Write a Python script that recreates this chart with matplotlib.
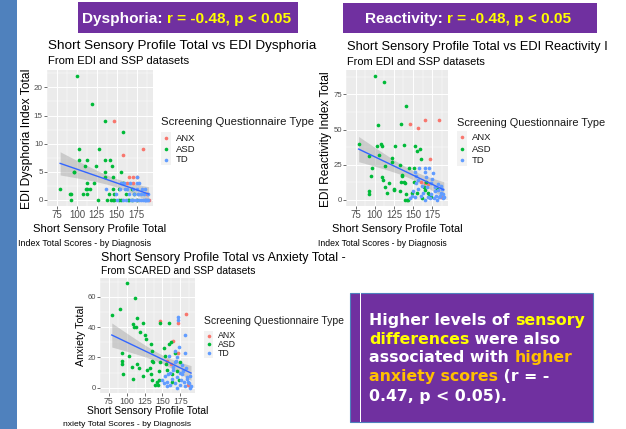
import numpy as np
import matplotlib
matplotlib.use("Agg")
import matplotlib.pyplot as plt
from matplotlib.patches import Rectangle
from matplotlib.lines import Line2D

plt.rcParams['font.family'] = ['Liberation Sans', 'DejaVu Sans']

# --- SSP total vs EDI Dysphoria ---
dys_anx_x = [146, 158, 183, 165, 170, 176, 163, 171, 188, 190, 175]
dys_anx_y = [14, 8, 9, 4, 4, 4, 3, 3, 1, 0, 0]
dys_asd_x = [100, 119, 135, 158, 103, 128, 103, 113, 135, 141, 110, 124, 144, 135, 156,
             96, 97, 135, 145, 113, 122, 79, 111, 113, 116, 145, 91, 93, 108, 113, 146,
             93, 127, 138, 143, 145, 147, 153, 155, 164, 166, 169, 169, 153, 140, 158,
             162, 172, 175]
dys_asd_y = [22, 17, 14, 12, 9, 9, 7, 7, 7, 7, 6, 6, 6, 5, 5,
             5, 5, 4, 4, 3, 3, 2, 2, 2, 2, 2, 1, 1, 1, 1, 1,
             0, 0, 0, 0, 0, 0, 0, 0, 0, 0, 0, 2, 2, 1, 3,
             1, 1, 0]
dys_td_x = [136, 149, 156, 159, 167, 176, 176, 186, 160, 165, 172, 177, 181, 184, 150,
            158, 162, 168, 171, 174, 178, 180, 183, 185, 187, 189, 189, 170, 175, 178,
            182, 186, 188, 154, 163]
dys_td_y = [2, 1, 3, 3, 3, 4, 3, 2, 2, 1, 1, 1, 1, 1, 0,
            0, 0, 0, 0, 0, 0, 0, 0, 0, 0, 0, 1, 2, 2, 3,
            2, 0, 0, 2, 2]

# --- SSP total vs EDI Reactivity ---
rea_anx_x = [146, 157, 166, 184, 172, 165, 187, 170, 160]
rea_anx_y = [54, 51, 57, 57, 29, 12, 2, 11, 13]
rea_asd_x = [100, 112, 141, 104, 134, 79, 103, 108, 109, 126, 138, 153, 155, 159, 160,
             92, 106, 122, 123, 133, 96, 113, 145, 151, 95, 110, 111, 113, 118, 116,
             125, 125, 133, 141, 140, 142, 144, 134, 138, 135, 136, 140, 92, 93, 149,
             151, 155, 162, 166, 167, 169, 174, 181, 164, 171]
rea_asd_y = [88, 84, 67, 53, 54, 40, 38, 40, 38, 38, 39, 38, 35, 36, 29,
             31, 32, 30, 27, 25, 23, 24, 23, 23, 17, 16, 14, 9, 12, 5,
             8, 7, 6, 4, 0, 0, 0, 13, 13, 18, 17, 12, 6, 4, 5,
             13, 5, 1, 7, 13, 5, 2, 8, 9, 3]
rea_td_x = [153, 154, 158, 165, 166, 171, 176, 154, 150, 156, 160, 163, 168, 170, 173,
            175, 177, 179, 180, 182, 184, 186, 188, 189, 157, 162, 165, 172, 178, 181,
            185, 189, 146, 148, 152, 167, 174, 183, 187, 190]
rea_td_y = [20, 17, 23, 23, 20, 23, 19, 12, 6, 8, 3, 5, 9, 2, 4,
            15, 1, 6, 3, 11, 2, 5, 8, 1, 14, 10, 0, 1, 9, 0,
            3, 4, 1, 3, 2, 16, 12, 7, 10, 2]

# --- SSP total vs SCARED anxiety total ---
anx_anx_x = [146, 172, 183, 165, 172, 157, 162, 186, 188]
anx_anx_y = [44, 43, 49, 31, 23, 18, 16, 2, 1]
anx_asd_x = [100, 112, 79, 91, 114, 123, 146, 159, 109, 110, 113, 119, 125, 127, 134,
             94, 93, 93, 95, 103, 108, 109, 115, 117, 123, 128, 132, 135, 135, 137,
             134, 136, 139, 143, 145, 144, 145, 152, 154, 159, 162, 167, 175, 170, 164,
             164, 173, 155, 156, 147]
anx_asd_y = [69, 59, 48, 52, 46, 43, 43, 43, 42, 40, 40, 37, 35, 32, 29,
             23, 18, 16, 9, 21, 14, 6, 16, 13, 8, 12, 13, 24, 18, 17,
             9, 5, 2, 4, 5, 2, 11, 26, 21, 29, 30, 23, 17, 11, 9,
             4, 5, 16, 12, 17]
anx_td_x = [172, 172, 182, 173, 167, 181, 159, 167, 171, 158, 150, 153, 156, 161, 163,
            165, 168, 170, 174, 176, 178, 180, 183, 185, 187, 189, 190, 160, 165, 170,
            175, 179, 184, 188, 152, 157, 177, 182, 186, 169]
anx_td_y = [47, 45, 35, 27, 24, 23, 21, 17, 20, 9, 5, 8, 4, 10, 6,
            12, 3, 7, 2, 5, 9, 4, 13, 6, 3, 8, 1, 2, 14, 0,
            10, 11, 7, 0, 3, 1, 15, 1, 4, 18]

groups = ['ANX', 'ASD', 'TD']
colors = ['#F8766D', '#00BA38', '#619CFF']
x_ticks = [75, 100, 125, 150, 175]

W, H = 626, 429
fig = plt.figure(figsize=(W / 100, H / 100), dpi=100)
renderer = fig.canvas.get_renderer()


def rect(x0, y0, x1, y1, **kw):
    fig.patches.append(Rectangle((x0 / W, 1 - y1 / H), (x1 - x0) / W, (y1 - y0) / H,
                                 transform=fig.transFigure, **kw))


def label(px, py, s, size, **kw):
    kw.setdefault('va', 'baseline')
    return fig.text(px / W, 1 - py / H, s, fontsize=size, **kw)


def text_width(s, size, **kw):
    t = fig.text(0, 0, s + '|', fontsize=size, **kw)
    b = fig.text(0, 0, '|', fontsize=size, **kw)
    w = t.get_window_extent(renderer).width - b.get_window_extent(renderer).width
    t.remove()
    b.remove()
    return w


def rich(px, py, parts, size, **kw):
    # coloured pieces of one line, laid left to right
    done = ''
    for s, c in parts:
        off = text_width(done, size, **kw) if done else 0
        label(px + off, py, s, size, color=c, **kw)
        done += s


def panel(box, xs, ys, yticks, xt_size, yt_size):
    x0, y0, x1, y1 = box
    ax = fig.add_axes([x0 / W, 1 - y1 / H, (x1 - x0) / W, (y1 - y0) / H])
    ax.set_facecolor('#EBEBEB')
    for gx, gy, col in zip(xs, ys, colors):
        ax.scatter(gx, gy, s=7, color=col, lw=0, zorder=3)
    allx = np.concatenate([np.asarray(v, float) for v in xs])
    ally = np.concatenate([np.asarray(v, float) for v in ys])
    # lm smoother with 95% band
    b, a = np.polyfit(allx, ally, 1)
    n = len(allx)
    s = np.sqrt(((ally - (a + b * allx)) ** 2).sum() / (n - 2))
    xx = np.linspace(allx.min(), allx.max(), 80)
    se = s * np.sqrt(1 / n + (xx - allx.mean()) ** 2 / ((allx - allx.mean()) ** 2).sum())
    yy = a + b * xx
    ax.fill_between(xx, yy - 1.984 * se, yy + 1.984 * se, color='#999999', alpha=0.4, lw=0, zorder=2)
    ax.plot(xx, yy, color='#3366FF', lw=1, zorder=4)
    rx, ry = np.ptp(allx), np.ptp(ally)
    ax.set_xlim(allx.min() - 0.05 * rx, allx.max() + 0.05 * rx)
    ax.set_ylim(ally.min() - 0.05 * ry, ally.max() + 0.05 * ry)
    ax.set_xticks(x_ticks)
    ax.set_yticks(yticks)
    ax.set_xticks([t + 12.5 for t in x_ticks[:-1]] + [62.5, 187.5], minor=True)
    step = yticks[1] - yticks[0]
    ax.set_yticks([t + step / 2 for t in yticks], minor=True)
    ax.grid(which='major', color='white', lw=0.7)
    ax.grid(which='minor', color='white', lw=0.35)
    ax.set_axisbelow(True)
    for sp in ax.spines.values():
        sp.set_visible(False)
    ax.tick_params(which='major', length=2, width=0.5, color='#333333', labelcolor='#4D4D4D', pad=1)
    ax.tick_params(which='minor', length=0)
    ax.tick_params(axis='x', labelsize=xt_size)
    ax.tick_params(axis='y', labelsize=yt_size)
    return ax


def legend(px, title_y, rows, title_size, lab_size, key_w=10):
    label(px, title_y, 'Screening Questionnaire Type', title_size, color='#1A1A1A')
    gap = rows[1] - rows[0]
    rect(px, rows[0] - 3 - gap / 2, px + key_w, rows[-1] - 3 + gap / 2, color='#F2F2F2', lw=0)
    for g, col, ry in zip(groups, colors, rows):
        fig.add_artist(Line2D([(px + key_w / 2) / W], [1 - (ry - 3) / H], marker='o', ms=2.6,
                              mew=0, color=col, transform=fig.transFigure))
        label(px + key_w + 5, ry, g, lab_size, color='#1A1A1A')


# slide decoration
rect(0, 0, 17, H, color='#4F81BD', lw=0)
rect(78, 2, 298, 33, color='#7030A0', lw=0)
rect(343, 3, 597, 33, color='#7030A0', lw=0)
rich(82, 23, [('Dysphoria: ', 'white'), ('r = -0.48, p < 0.05', '#FFFF00')], 11.1, fontweight='bold')
rich(365, 23, [('Reactivity: ', 'white'), ('r = -0.48, p < 0.05', '#FFFF00')], 11.1, fontweight='bold')

# panel 1: dysphoria
panel((47, 70, 153, 206), [dys_anx_x, dys_asd_x, dys_td_x], [dys_anx_y, dys_asd_y, dys_td_y],
      [0, 5, 10, 15, 20], 7, 5.8)
label(48, 49, 'Short Sensory Profile Total vs EDI Dysphoria', 9.7)
label(48, 64, 'From EDI and SSP datasets', 8.1)
fig.text(27 / W, 1 - 139 / H, 'EDI Dysphoria Index Total', fontsize=8.7, rotation=90, ha='center', va='center')
label(100, 231.5, 'Short Sensory Profile Total', 8.1, ha='center')
label(18, 245.5, 'Index Total Scores - by Diagnosis', 6.4)
legend(161, 125, [140.5, 152, 162.5], 8.2, 6.8)

# panel 2: reactivity
panel((346, 70, 448, 206), [rea_anx_x, rea_asd_x, rea_td_x], [rea_anx_y, rea_asd_y, rea_td_y],
      [0, 25, 50, 75], 7, 5.6)
label(347, 50, 'Short Sensory Profile Total vs EDI Reactivity I', 9.3)
label(347, 65, 'From EDI and SSP datasets', 7.9)
fig.text(326 / W, 1 - 139 / H, 'EDI Reactivity Index Total', fontsize=8.6, rotation=90, ha='center', va='center')
label(397, 232, 'Short Sensory Profile Total', 7.9, ha='center')
label(318, 245.5, 'Index Total Scores - by Diagnosis', 6.2)
legend(457, 125.5, [140, 152, 163], 7.9, 6.8)

# panel 3: anxiety
panel((100, 278, 195, 393), [anx_anx_x, anx_asd_x, anx_td_x], [anx_anx_y, anx_asd_y, anx_td_y],
      [0, 20, 40, 60], 6.3, 5.5)
label(101, 260.5, 'Short Sensory Profile Total vs Anxiety Total -', 8.9)
label(101, 273.5, 'From SCARED and SSP datasets', 7.4)
fig.text(81 / W, 1 - 336 / H, 'Anxiety Total', fontsize=7.7, rotation=90, ha='center', va='center')
label(147.5, 414, 'Short Sensory Profile Total', 7.4, ha='center')
label(63, 425.5, 'nxiety Total Scores - by Diagnosis', 6.1)
legend(204, 324, [338.5, 347.3, 356.3], 7.5, 6.3, key_w=9)

# summary box
rect(350, 293, 593, 422, facecolor='#7030A0', edgecolor='#4F81BD', lw=0.8)
rect(359.5, 293, 361, 422, color='white', lw=0)
box_font = dict(fontweight='bold', family='DejaVu Sans')
rich(369, 325, [('Higher levels of ', 'white'), ('sensory', '#FFFF00')], 11.3, **box_font)
rich(369, 343.5, [('differences', '#FFFF00'), (' were also', 'white')], 11.3, **box_font)
rich(369, 362, [('associated with ', 'white'), ('higher', '#FFC000')], 11.3, **box_font)
rich(369, 381, [('anxiety scores', '#FFC000'), (' (r = -', 'white')], 11.3, **box_font)
rich(369, 400.5, [('0.47, p < 0.05).', 'white')], 11.3, **box_font)

fig.savefig('out.png', dpi=100)
